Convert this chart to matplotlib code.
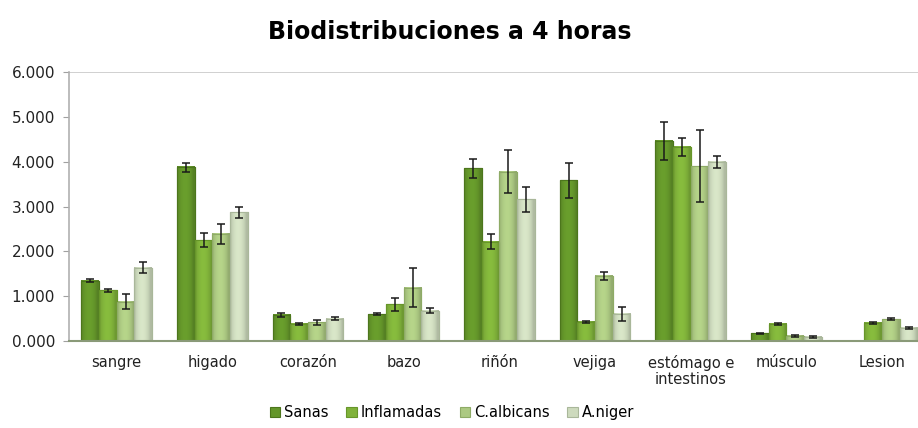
import numpy as np
import matplotlib
matplotlib.use('Agg')
import matplotlib.pyplot as plt
from matplotlib.colors import to_rgb
from matplotlib.ticker import FuncFormatter

plt.rcParams['font.family'] = ['Liberation Sans Narrow', 'DejaVu Sans']

# ---------------------------------------------------------------------------
# Data
# ---------------------------------------------------------------------------
categories = ['sangre', 'higado', 'corazón', 'bazo', 'riñón', 'vejiga',
              'estómago e\nintestinos', 'músculo', 'Lesion']
series = ['Sanas', 'Inflamadas', 'C.albicans', 'A.niger']

sanas      = [1.35, 3.88, 0.58, 0.60, 3.85, 3.58, 4.46, 0.17, np.nan]
inflamadas = [1.13, 2.25, 0.38, 0.82, 2.22, 0.43, 4.33, 0.38, 0.41]
calbicans  = [0.88, 2.39, 0.42, 1.19, 3.78, 1.46, 3.90, 0.12, 0.49]
aniger     = [1.64, 2.87, 0.50, 0.68, 3.16, 0.61, 3.99, 0.10, 0.30]

sanas_err      = [0.03, 0.10, 0.04, 0.02, 0.22, 0.40, 0.43, 0.02, 0.0]
inflamadas_err = [0.03, 0.15, 0.02, 0.15, 0.16, 0.02, 0.20, 0.02, 0.02]
calbicans_err  = [0.17, 0.23, 0.06, 0.43, 0.48, 0.09, 0.80, 0.02, 0.03]
aniger_err     = [0.13, 0.12, 0.03, 0.05, 0.28, 0.16, 0.13, 0.02, 0.02]

values = [sanas, inflamadas, calbicans, aniger]
errors = [sanas_err, inflamadas_err, calbicans_err, aniger_err]
colors = ['#64962a', '#80b23a', '#acc982', '#cddabd']
edges  = ['#4c761c', '#67962a', '#8eab66', '#a9b79a']


def shade_bars(ax, container, color):
    """Paint a soft horizontal cylinder-like gradient inside every bar."""
    base = np.array(to_rgb(color))
    t = np.linspace(0, 1, 32)
    k = 0.86 + 0.2 * np.sin(np.pi * np.clip(t * 1.1, 0, 1)) ** 0.7
    grad = np.clip(base[None, :] * k[:, None], 0, 1)[None, :, :]
    for p in container.patches:
        h = p.get_height()
        if not np.isfinite(h) or h <= 0:
            continue
        x0, w = p.get_x(), p.get_width()
        ax.imshow(grad, extent=(x0, x0 + w, 0, h), aspect='auto',
                  interpolation='bilinear', zorder=2.1)


# ---------------------------------------------------------------------------
# Figure
# ---------------------------------------------------------------------------
fig = plt.figure(figsize=(9.18, 4.28), dpi=100, facecolor='white')
ax = fig.add_axes([0.075, 0.203, 0.938, 0.629])

x = np.arange(len(categories))
width = 0.185
offsets = (np.arange(len(series)) - 1.5) * width

for vals, errs, col, ec, off, name in zip(values, errors, colors, edges,
                                          offsets, series):
    bars = ax.bar(x + off, vals, width, color=col, edgecolor=ec,
                  linewidth=0.8, label=name, zorder=2)
    shade_bars(ax, bars, col)
    ax.bar(x + off, vals, width, fill=False, edgecolor=ec, linewidth=0.8,
           zorder=2.2)
    ax.errorbar(x + off, vals, yerr=errs, fmt='none', ecolor='#1a1a1a',
                elinewidth=1.1, capsize=3, capthick=1.1, zorder=3)

ax.set_xlim(-0.5, len(categories) - 0.5)
ax.set_ylim(0, 6)
ax.set_yticks(np.arange(0, 7, 1))
ax.yaxis.set_major_formatter(FuncFormatter(lambda v, p: f'{v:.3f}'))
ax.axhline(6, color='#c8c8c8', lw=1.2, zorder=1)

ax.set_xticks(x)
ax.set_xticklabels(categories, fontsize=10.5, color='#222222',
                   linespacing=1.1)
ax.tick_params(axis='x', length=0, pad=10)
ax.tick_params(axis='y', length=4, color='#a0a0a0', labelsize=11,
               labelcolor='#222222', pad=6)

for s in ('top', 'right'):
    ax.spines[s].set_visible(False)
ax.spines['left'].set_color('#b0b0b0')
ax.spines['left'].set_linewidth(1.2)
ax.spines['bottom'].set_color('#8a9a78')
ax.spines['bottom'].set_linewidth(1.5)

fig.text(0.49, 0.925, 'Biodistribuciones a 4 horas', ha='center',
         va='center', fontsize=17, fontweight='bold', color='black')

ax.legend(loc='center', bbox_to_anchor=(0.445, -0.265),
          ncol=4, frameon=False, fontsize=10.5, handlelength=0.7,
          handleheight=0.7, handletextpad=0.3, columnspacing=1.2)

fig.savefig('out.png', dpi=100, facecolor='white')
